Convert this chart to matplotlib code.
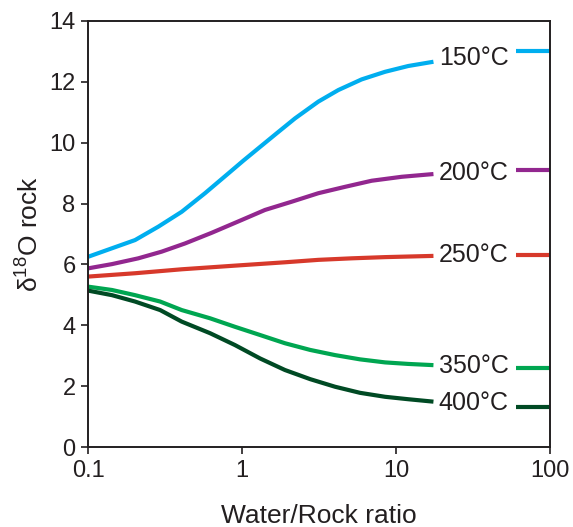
import matplotlib
matplotlib.use("Agg")
from matplotlib import pyplot as plt

plt.rcParams['font.family'] = ['Liberation Sans', 'DejaVu Sans']
plt.rcParams['mathtext.fontset'] = 'custom'
plt.rcParams['mathtext.rm'] = 'Liberation Sans'
plt.rcParams['mathtext.default'] = 'regular'

# water/rock ratios at which each curve was read
wr150 = [0.1, 0.143, 0.202, 0.286, 0.406, 0.575, 0.815, 1.02, 1.28, 1.68,
         2.21, 3.13, 4.22, 5.98, 8.49, 12.0, 17.5]
d150 = [6.25, 6.53, 6.80, 7.24, 7.73, 8.34, 8.99, 9.41, 9.82, 10.31,
        10.80, 11.35, 11.73, 12.08, 12.33, 12.52, 12.66]

wr200 = [0.1, 0.143, 0.212, 0.301, 0.427, 0.636, 0.995, 1.41, 2.10, 3.13,
         4.67, 6.95, 10.9, 17.5]
d200 = [5.87, 6.01, 6.20, 6.42, 6.69, 7.04, 7.46, 7.79, 8.06, 8.34,
        8.55, 8.75, 8.88, 8.97]

wr250 = [0.1, 0.202, 0.406, 0.90, 1.90, 3.13, 5.15, 8.49, 17.5]
d250 = [5.60, 5.71, 5.84, 5.96, 6.07, 6.15, 6.20, 6.24, 6.28]

wr_hot = [0.1, 0.143, 0.202, 0.294, 0.406, 0.62, 0.90, 1.31, 1.90, 2.77,
          4.02, 5.84, 8.49, 12.0, 17.5]
d350 = [5.27, 5.16, 4.99, 4.78, 4.50, 4.23, 3.95, 3.68, 3.41, 3.19,
        3.02, 2.88, 2.78, 2.73, 2.69]
d400 = [5.14, 4.99, 4.78, 4.50, 4.12, 3.74, 3.35, 2.91, 2.53, 2.23,
        1.98, 1.78, 1.65, 1.57, 1.49]

# equilibrium values shown as short segments at the right edge
wr_end = [60, 100]
end_vals = [13.0, 9.1, 6.3, 2.58, 1.33]

labels = ['150°C', '200°C', '250°C', '350°C', '400°C']
label_y = [12.77, 9.02, 6.31, 2.66, 1.43]
colors = ['#00aeef', '#92278f', '#d7392b', '#00a651', '#004a24']

fig = plt.figure(figsize=(5.73, 5.27), dpi=100)
ax = fig.add_axes([0.1536, 0.1518, 0.8063, 0.8084])

series = [(wr150, d150), (wr200, d200), (wr250, d250), (wr_hot, d350), (wr_hot, d400)]
for (xs, ys), c, lab, ly, ev in zip(series, colors, labels, label_y, end_vals):
    ax.plot(xs, ys, color=c, lw=3, solid_capstyle='butt', solid_joinstyle='round')
    ax.plot(wr_end, [ev, ev], color=c, lw=3, solid_capstyle='butt')
    ax.text(32, ly, lab, ha='center', va='center', fontsize=18, color='#231f20')

ax.set_xscale('log')
ax.set_xlim(0.1, 100)
ax.set_ylim(0, 14)
ax.set_xticks([0.1, 1, 10, 100])
ax.set_xticklabels(['0.1', '1', '10', '100'])
ax.minorticks_off()
ax.set_yticks(range(0, 15, 2))

for s in ax.spines.values():
    s.set_linewidth(1.4)
    s.set_color('#231f20')
ax.tick_params(direction='out', length=5, width=1.2, labelsize=17,
               colors='#231f20', pad=4)

ax.set_xlabel('Water/Rock ratio', fontsize=19, color='#231f20', labelpad=16)
ax.set_ylabel('δ$^{18}$O rock', fontsize=19, color='#231f20', labelpad=4)

plt.savefig('out.png', dpi=100)
